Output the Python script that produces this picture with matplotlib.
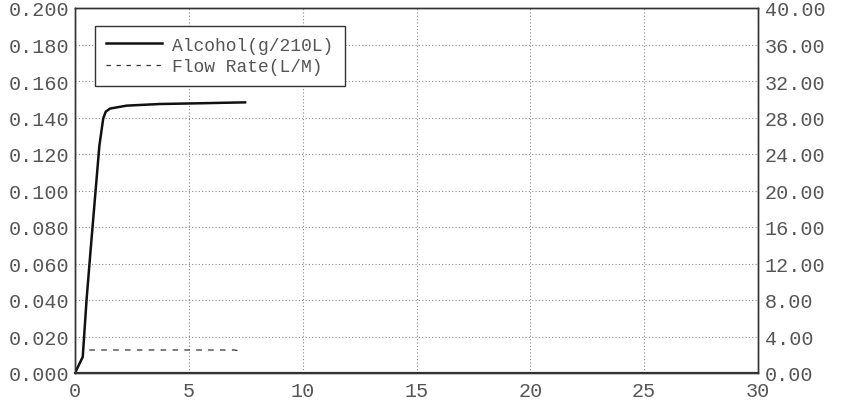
import matplotlib
matplotlib.use("Agg")
import matplotlib.pyplot as plt

# Data
alc_t = [0.0, 0.34, 0.51, 0.69, 1.07, 1.24, 1.35, 1.54, 2.27, 3.73, 5.5, 7.47]
alc_v = [0.0, 0.0088, 0.0405, 0.068, 0.1245, 0.1395, 0.1432, 0.1449, 0.1465, 0.1474, 0.1478, 0.1483]
flow_t = [0.63, 2.0, 4.0, 6.0, 7.0, 7.25]
flow_v = [2.52, 2.52, 2.52, 2.52, 2.52, 2.42]

x_ticks = [0, 5, 10, 15, 20, 25, 30]
y_left_ticks = [0.0, 0.02, 0.04, 0.06, 0.08, 0.10, 0.12, 0.14, 0.16, 0.18, 0.20]
y_right_ticks = [0, 4, 8, 12, 16, 20, 24, 28, 32, 36, 40]

FONT = "Liberation Mono"
TXT = "#555555"

fig = plt.figure(figsize=(8.5, 4.02), dpi=100)
ax = fig.add_axes([75/850, 1 - 374/402, (758-75)/850, (374-9)/402])
ax2 = ax.twinx()

ax.plot(alc_t, alc_v, color="#111111", lw=1.8, solid_joinstyle="round",
        label="Alcohol(g/210L)")
ax2.plot(flow_t, flow_v, color="#333333", lw=0.9, linestyle=(0, (4.5, 5)))
# legend proxy for flow rate
ax.plot([], [], color="#333333", lw=0.9, linestyle=(0, (3.5, 4.5)), label="Flow Rate(L/M)")

ax.set_xlim(0, 30)
ax.set_ylim(0, 0.2)
ax2.set_ylim(0, 40)
ax.set_xticks(x_ticks)
ax.set_yticks(y_left_ticks)
ax2.set_yticks(y_right_ticks)
ax.set_xticklabels([str(v) for v in x_ticks])
ax.set_yticklabels([f"{v:.3f}" for v in y_left_ticks])
ax2.set_yticklabels([f"{v:.2f}" for v in y_right_ticks])

ax.grid(True, color="#8a8a8a", linestyle=(0, (1, 2)), lw=0.8)
ax.set_axisbelow(True)

for a in (ax, ax2):
    a.tick_params(length=0, labelsize=14.5, labelcolor=TXT)
    for lab in a.get_xticklabels() + a.get_yticklabels():
        lab.set_fontfamily(FONT)
    for s in a.spines.values():
        s.set_color("#333333")
        s.set_linewidth(1.0)
ax.spines["bottom"].set_linewidth(1.6)
ax.tick_params(axis="y", pad=4)
ax.tick_params(axis="x", pad=6)
ax2.tick_params(axis="y", pad=5)

leg = ax.legend(loc="upper left", bbox_to_anchor=(0.029, 0.951), frameon=True,
                fancybox=False, edgecolor="#333333", framealpha=1,
                prop={"family": FONT, "size": 13}, handlelength=3.1,
                handletextpad=0.6, borderpad=0.6, labelspacing=0.25,
                borderaxespad=0, labelcolor=TXT)
leg.get_frame().set_linewidth(1.0)

fig.savefig("out.png", dpi=100)
